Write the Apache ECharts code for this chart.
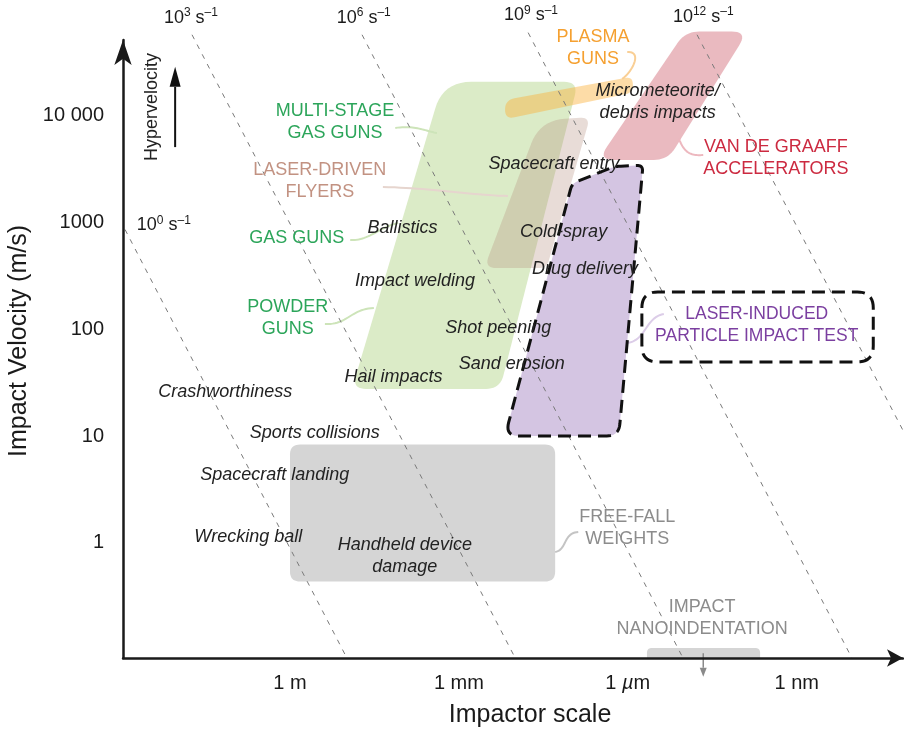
<!DOCTYPE html>
<html><head><meta charset="utf-8">
<script src="https://cdn.jsdelivr.net/npm/echarts@6/dist/echarts.min.js"></script>
<style>html,body{margin:0;padding:0;background:#fff}#c{width:904px;height:732px}</style>
</head><body><div id="c"></div>
<script>
// x values: log10(impactor size / m)   y values: log10(impact velocity / (m/s))
const xTickValues = [0, -3, -6, -9];
const xTickLabels = ['1 m', '1 mm', '1 {i|µ}m', '1 nm'];
const yTickValues = [0, 1, 2, 3, 4];
const yTickLabels = ['1', '10', '100', '1000', '10 000'];

// constant strain-rate guide lines (v / L = 10^k s^-1)
const strainExponents = ['0', '3', '6', '9', '12'];
const strainLines = [
  [[2.93, 2.93], [-1.01, -1.075]],
  [[1.74, 4.75], [-4.00, -1.075]],
  [[-1.28, 4.75], [-6.98, -1.075]],
  [[-4.23, 4.77], [-9.98, -1.075]],
  [[-7.23, 4.75], [-10.9, 1.04]]
];
const strainLabelPos = [[2.24, 2.97], [1.76, 4.91], [-1.31, 4.91], [-4.28, 4.93], [-7.34, 4.92]];

// technique regions (corner points)
const gasGunRegion      = [[-2.72, 4.31], [-5.12, 4.31], [-3.73, 1.44], [-1.10, 1.44]];
const plasmaGunRegion   = [[-3.82, 4.14], [-6.09, 4.36], [-6.09, 4.21], [-3.82, 3.96]];
const laserFlyerRegion  = [[-4.44, 3.95], [-5.33, 3.98], [-4.56, 2.57], [-3.45, 2.57]];
const vanDeGraaffRegion = [[-7.02, 4.78], [-8.13, 4.78], [-6.71, 3.58], [-5.47, 3.58]];
const freeFallRegion    = [[0, 0.92], [-4.71, 0.92], [-4.71, -0.36], [0, -0.36]];
const nanoIndentRegion  = [[-6.34, -0.981], [-8.35, -0.981], [-8.35, -1.075], [-6.34, -1.075]];
const lipitRegion       = [[-3.82, 1.0], [-5.84, 1.0], [-6.27, 3.53], [-5.77, 3.52], [-5.01, 3.36]];
const lipitLabelBox     = [[-6.25, 2.346], [-10.36, 2.346], [-10.36, 1.692], [-6.25, 1.692]];

// labels [text, x, y, family]
const methodLabels = [
  ['MULTI-STAGE\nGAS GUNS', -0.80, 3.93, 'gas'],
  ['LASER-DRIVEN\nFLYERS', -0.53, 3.38, 'flyer'],
  ['GAS GUNS', -0.12, 2.85, 'gas'],
  ['POWDER\nGUNS', 0.04, 2.10, 'gas'],
  ['PLASMA\nGUNS', -5.38, 4.63, 'plasma'],
  ['VAN DE GRAAFF\nACCELERATORS', -8.63, 3.60, 'vdg'],
  ['LASER-INDUCED\nPARTICLE IMPACT TEST', -8.29, 2.04, 'lipit'],
  ['FREE-FALL\nWEIGHTS', -5.99, 0.14, 'grey'],
  ['IMPACT\nNANOINDENTATION', -7.32, -0.70, 'grey']
];
const applicationLabels = [
  ['Ballistics', -2.00, 2.94],
  ['Impact welding', -2.22, 2.45],
  ['Shot peening', -3.70, 2.01],
  ['Sand erosion', -3.94, 1.67],
  ['Hail impacts', -1.84, 1.55],
  ['Drug delivery', -5.24, 2.56],
  ['Cold-spray', -4.86, 2.91],
  ['Spacecraft entry', -4.69, 3.54],
  ['Micrometeorite/\ndebris impacts', -6.53, 4.12],
  ['Crashworthiness', 1.15, 1.41],
  ['Sports collisions', -0.44, 1.03],
  ['Spacecraft landing', 0.27, 0.64],
  ['Wrecking ball', 0.74, 0.06],
  ['Handheld device\ndamage', -2.04, -0.12]
];
// leader curves (cubic: start, c1, c2, end)
const leaderCurves = [
  ['gas',    [[-1.87, 3.879], [-2.22, 3.907], [-2.40, 3.850], [-2.61, 3.832]]],
  ['flyer',  [[-1.65, 3.327], [-2.49, 3.318], [-3.20, 3.252], [-3.87, 3.243]]],
  ['gas',    [[-1.07, 2.832], [-1.39, 2.822], [-1.56, 2.944], [-1.92, 2.991]]],
  ['gas',    [[-0.62, 2.047], [-1.03, 2.037], [-1.07, 2.187], [-1.49, 2.196]]],
  ['plasma', [[-5.99, 4.589], [-6.25, 4.598], [-6.11, 4.421], [-5.90, 4.336]]],
  ['vdg',    [[-6.91, 3.776], [-7.00, 3.654], [-7.10, 3.617], [-7.34, 3.626]]],
  ['lipit',  [[-5.97, 1.869], [-6.32, 1.879], [-6.31, 2.112], [-6.64, 2.140]]],
  ['grey',   [[-4.71, -0.084], [-4.92, -0.065], [-4.85, 0.093], [-5.12, 0.103]]]
];
const hyperArrow = [[2.04, 3.70], [2.04, 4.45]];
const nanoArrow = [[-7.34, -1.03], [-7.34, -1.25]];
const hyperLabel = ['Hypervelocity', 2.45, 4.075];

// ---------- styles ----------
const F = "'Liberation Sans', Arial, Helvetica, sans-serif";
const INK = '#1a1a1a';
const familyColor = {gas: '#2ca55a', flyer: '#c29282', plasma: '#f5a030', vdg: '#cc2a40', lipit: '#7b3fa0', grey: '#8c8c8c'};
const leaderColor = {gas: '#cde4b9', flyer: '#e6d5ce', plasma: '#f9cf95', vdg: '#edb8bf', lipit: '#dccde8', grey: '#c4c4c4'};
const regions = [
  {pts: gasGunRegion, r: [28, 14, 14, 14], fill: '#dbebc7'},
  {pts: plasmaGunRegion, r: [10, 9, 7, 10], fill: 'rgba(250,178,60,0.45)'},
  {pts: laserFlyerRegion, r: [25, 10, 8, 12], fill: 'rgba(178,138,122,0.3)'},
  {pts: vanDeGraaffRegion, r: [14, 16, 14, 16], fill: '#eabac0'},
  {pts: freeFallRegion, r: [10, 10, 10, 10], fill: '#d5d5d5'},
  {pts: nanoIndentRegion, r: [5, 5, 0, 0], fill: '#d5d5d5'},
  {pts: lipitRegion, r: [14, 12, 6, 6, 6], fill: '#d4c5e2'}
];
const outlines = [
  {pts: lipitRegion, r: [14, 12, 6, 6, 6]},
  {pts: lipitLabelBox, r: [16, 16, 16, 16]}
];
const arrows = [
  {pts: hyperArrow, color: '#111', w: 2, hw: 11, hl: 20},
  {pts: nanoArrow, color: '#8a8a8a', w: 1.5, hw: 7, hl: 9}
];

function roundPts(px, r) {
  const n = px.length, out = [];
  for (let i = 0; i < n; i++) {
    const p = px[i], a = px[(i - 1 + n) % n], b = px[(i + 1) % n];
    const ri = r[i] || 0;
    if (!ri) { out.push(p); continue; }
    const da = Math.hypot(a[0] - p[0], a[1] - p[1]), db = Math.hypot(b[0] - p[0], b[1] - p[1]);
    const rr = Math.min(ri, da / 2, db / 2);
    const p1 = [p[0] + (a[0] - p[0]) * rr / da, p[1] + (a[1] - p[1]) * rr / da];
    const p2 = [p[0] + (b[0] - p[0]) * rr / db, p[1] + (b[1] - p[1]) * rr / db];
    for (let k = 0; k <= 10; k++) {
      const t = k / 10, u = 1 - t;
      out.push([u * u * p1[0] + 2 * u * t * p[0] + t * t * p2[0], u * u * p1[1] + 2 * u * t * p[1] + t * t * p2[1]]);
    }
  }
  return out;
}
function cubicPts(c) {
  const out = [];
  for (let k = 0; k <= 24; k++) {
    const t = k / 24, u = 1 - t;
    const a = u * u * u, b = 3 * u * u * t, d = 3 * u * t * t, e = t * t * t;
    out.push([a * c[0][0] + b * c[1][0] + d * c[2][0] + e * c[3][0], a * c[0][1] + b * c[1][1] + d * c[2][1] + e * c[3][1]]);
  }
  return out;
}
function idxData(list, getPt) {
  return list.map((g, i) => { const p = getPt(g); return [p[0], p[1], i]; });
}
function textSeries(items, styleFn, z) {
  return {
    type: 'custom', z: z, silent: true, clip: false,
    data: idxData(items, d => [d[1], d[2]]), encode: {x: 0, y: 1},
    renderItem: (params, api) => {
      const d = items[api.value(2)];
      const p = api.coord([d[1], d[2]]);
      const s = styleFn(d, api.value(2));
      return {type: 'text', x: p[0], y: p[1], rotation: s.rotation || 0,
        style: Object.assign({text: d[0], align: 'center', verticalAlign: 'middle', fontFamily: F}, s.style)};
    }
  };
}

const series = [];
series.push({
  type: 'custom', z: 2, silent: true, clip: false,
  data: idxData(regions, g => g.pts[0]), encode: {x: 0, y: 1},
  renderItem: (params, api) => {
    const g = regions[api.value(2)];
    const px = g.pts.map(p => api.coord(p));
    return {type: 'polygon', shape: {points: roundPts(px, g.r)}, style: {fill: g.fill}};
  }
});
series.push({
  type: 'custom', z: 3, silent: true, clip: false,
  data: idxData(leaderCurves, g => g[1][0]), encode: {x: 0, y: 1},
  renderItem: (params, api) => {
    const g = leaderCurves[api.value(2)];
    const px = g[1].map(p => api.coord(p));
    return {type: 'polyline', shape: {points: cubicPts(px)}, style: {fill: null, stroke: leaderColor[g[0]], lineWidth: 2}};
  }
});
strainLines.forEach(l => series.push({
  type: 'line', z: 4, silent: true, clip: false, symbol: 'none', data: l,
  lineStyle: {color: '#7a7a7a', width: 1, type: [5, 6]}
}));
series.push({
  type: 'custom', z: 5, silent: true, clip: false,
  data: idxData(outlines, g => g.pts[0]), encode: {x: 0, y: 1},
  renderItem: (params, api) => {
    const g = outlines[api.value(2)];
    const px = g.pts.map(p => api.coord(p));
    return {type: 'polygon', shape: {points: roundPts(px, g.r)}, style: {fill: null, stroke: '#111', lineWidth: 3, lineDash: [13, 7]}};
  }
});
series.push({
  type: 'custom', z: 5, silent: true, clip: false,
  data: idxData(arrows, g => g.pts[0]), encode: {x: 0, y: 1},
  renderItem: (params, api) => {
    const g = arrows[api.value(2)];
    const p0 = api.coord(g.pts[0]), p1 = api.coord(g.pts[1]);
    const L = Math.hypot(p1[0] - p0[0], p1[1] - p0[1]);
    const dx = (p1[0] - p0[0]) / L, dy = (p1[1] - p0[1]) / L;
    const bx = p1[0] - dx * g.hl, by = p1[1] - dy * g.hl;
    const nx = -dy * g.hw / 2, ny = dx * g.hw / 2;
    return {type: 'group', children: [
      {type: 'line', shape: {x1: p0[0], y1: p0[1], x2: bx, y2: by}, style: {stroke: g.color, lineWidth: g.w}},
      {type: 'polygon', shape: {points: [[p1[0], p1[1]], [bx + nx, by + ny], [bx - nx, by - ny]]}, style: {fill: g.color}}
    ]};
  }
});
const strainTextItems = strainExponents.map((e, i) => ['10{s|' + e + '} s{s|–1}', strainLabelPos[i][0], strainLabelPos[i][1]]);
series.push(textSeries(strainTextItems, () => ({style: {fill: INK, fontSize: 18, lineHeight: 22,
  rich: {s: {fontSize: 12, lineHeight: 12, verticalAlign: 'top', fill: INK, fontFamily: F}}}}), 6));
series.push(textSeries(methodLabels, d => ({style: {fill: familyColor[d[3]], fontSize: d[3] === 'lipit' ? 17.5 : 18, lineHeight: 22}}), 6));
series.push(textSeries(applicationLabels, () => ({style: {fill: '#222', fontSize: 18, fontStyle: 'italic', lineHeight: 22}}), 6));
series.push(textSeries([hyperLabel], () => ({rotation: Math.PI / 2, style: {fill: '#222', fontSize: 18}}), 6));

const chart = echarts.init(document.getElementById('c'), null, {renderer: 'canvas'});
chart.setOption({
  animation: false,
  backgroundColor: '#fff',
  grid: {left: 123, right: 1, top: 40, bottom: 74, containLabel: false, outerBoundsMode: 'none'},
  xAxis: {
    type: 'value', inverse: true, min: -10.888, max: 2.966, z: 8,
    axisLine: {show: true, onZero: false, symbol: ['none', 'arrow'], symbolSize: [13, 16], lineStyle: {color: INK, width: 2.5}},
    axisTick: {show: false}, splitLine: {show: false},
    axisLabel: {customValues: xTickValues, margin: 15, fontSize: 20, color: INK, fontFamily: F,
      formatter: v => { const i = xTickValues.indexOf(v); return i < 0 ? '' : xTickLabels[i]; },
      rich: {i: {fontStyle: 'italic', fontSize: 20, fontFamily: F, color: INK}}},
    name: 'Impactor scale', nameLocation: 'middle', nameGap: 45,
    nameTextStyle: {fontSize: 25, color: INK, fontFamily: F, padding: [0, 0, 0, 34]}
  },
  yAxis: {
    type: 'value', min: -1.075, max: 4.701, z: 8,
    axisLine: {show: true, onZero: false, symbol: ['none', 'arrow'], symbolSize: [13, 25], lineStyle: {color: INK, width: 2.5}},
    axisTick: {show: false}, splitLine: {show: false},
    axisLabel: {customValues: yTickValues, margin: 19, fontSize: 20, color: INK, fontFamily: F,
      formatter: v => { const i = yTickValues.indexOf(v); return i < 0 ? '' : yTickLabels[i]; }},
    name: 'Impact Velocity (m/s)', nameLocation: 'middle', nameRotate: 90, nameGap: 84,
    nameTextStyle: {fontSize: 25, color: INK, fontFamily: F, padding: [0, 0, 0, 16]}
  },
  series: series
});
</script></body></html>
